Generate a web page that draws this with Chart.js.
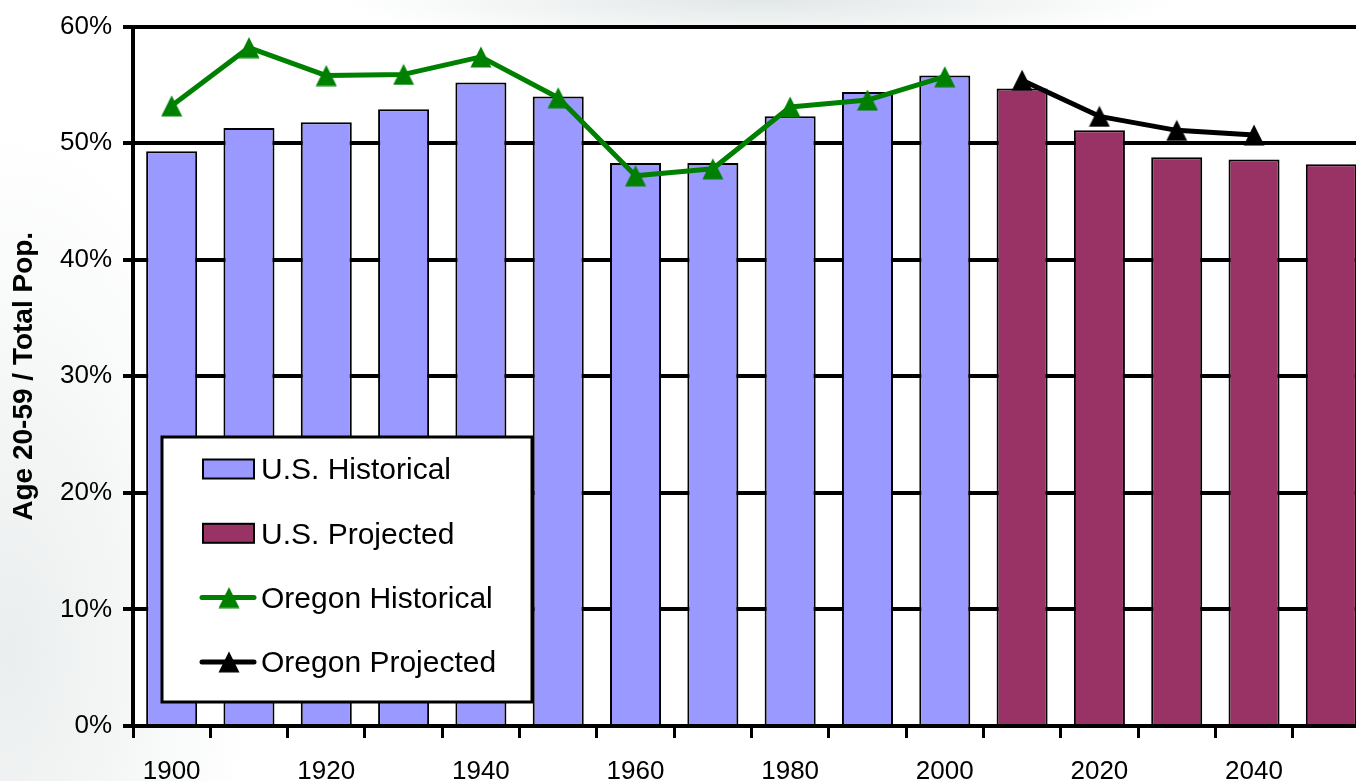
<!DOCTYPE html>
<html>
<head>
<meta charset="utf-8">
<script src="https://cdn.jsdelivr.net/npm/chart.js@4.4.0/dist/chart.umd.min.js"></script>
<style>
html, body { margin: 0; padding: 0; }
body {
    width: 1356px; height: 781px; overflow: hidden;
    background:
        radial-gradient(ellipse 420px 45px at 760px 0px, rgba(222, 228, 228, 0.9), rgba(255, 255, 255, 0) 100%),
        radial-gradient(ellipse 240px 520px at 10px 650px, rgba(230, 234, 234, 0.8), rgba(255, 255, 255, 0) 100%),
        #ffffff;
}
#wrap { width: 1356px; height: 781px; overflow: hidden; }
canvas { display: block; }
</style>
</head>
<body>
<div id="wrap"><canvas id="chart" width="1376" height="781"></canvas></div>
<script>
// Share of population aged 20-59, U.S. vs Oregon, 1900-2050

const years = ["1900", "1910", "1920", "1930", "1940", "1950", "1960", "1970",
               "1980", "1990", "2000", "2010", "2020", "2030", "2040", "2050"];

const usHistorical = [49.3, 51.3, 51.8, 52.9, 55.2, 54.0, 48.3, 48.3,
                      52.3, 54.4, 55.8, null, null, null, null, null];

const usProjected = [null, null, null, null, null, null, null, null,
                     null, null, null, 54.7, 51.1, 48.8, 48.6, 48.2];

const oregonHistorical = [53.2, 58.2, 55.8, 55.9, 57.4, 53.9, 47.2, 47.8,
                          53.1, 53.7, 55.7, null, null, null, null, null];

const oregonProjected = [null, null, null, null, null, null, null, null,
                         null, null, null, 55.4, 52.3, 51.1, 50.7, null];

const yTicks = [0, 10, 20, 30, 40, 50, 60];

const FONT = "'Liberation Sans', Arial, sans-serif";

// Excel-like triangle marker (box centred on the point)
function triangleMarker(color) {
    var c = document.createElement("canvas");
    c.width = 22;
    c.height = 22;
    var g = c.getContext("2d");
    g.beginPath();
    g.moveTo(11, 0.5);
    g.lineTo(21.5, 21.5);
    g.lineTo(0.5, 21.5);
    g.closePath();
    g.fillStyle = color;
    g.fill();
    return c;
}

const greenTri = triangleMarker("#008000");
const blackTri = triangleMarker("#000000");

// white plot area, the slide background shows around it
const plotBackground = {
    id: "plotBackground",
    beforeDraw: function (chart) {
        var a = chart.chartArea;
        var ctx = chart.ctx;
        ctx.save();
        ctx.fillStyle = "#ffffff";
        ctx.fillRect(a.left, a.top, a.right - a.left, a.bottom - a.top);
        ctx.restore();
    }
};

// boxed legend sitting inside the plot, bottom left
const boxLegend = {
    id: "boxLegend",
    afterDraw: function (chart) {
        var ctx = chart.ctx;
        var box = { x: 162, y: 437, w: 370, h: 265 };
        ctx.save();
        ctx.fillStyle = "#ffffff";
        ctx.fillRect(box.x, box.y, box.w, box.h);
        ctx.lineWidth = 3;
        ctx.strokeStyle = "#000000";
        ctx.strokeRect(box.x, box.y, box.w, box.h);

        ctx.font = "30px " + FONT;
        ctx.textBaseline = "middle";
        ctx.textAlign = "left";

        chart.data.datasets.forEach(function (ds, i) {
            var rowY = 469 + i * 64.3;
            if (ds.type === "bar") {
                ctx.fillStyle = ds.backgroundColor;
                ctx.fillRect(203, rowY - 9.5, 51, 19);
                ctx.lineWidth = 2;
                ctx.strokeStyle = "#000000";
                ctx.strokeRect(203, rowY - 9.5, 51, 19);
            } else {
                ctx.beginPath();
                ctx.moveTo(202, rowY);
                ctx.lineTo(254, rowY);
                ctx.lineWidth = 5;
                ctx.lineCap = "round";
                ctx.strokeStyle = ds.borderColor;
                ctx.stroke();
                ctx.drawImage(ds.pointStyle, 229 - 11, rowY - 11);
            }
            ctx.fillStyle = "#000000";
            ctx.fillText(ds.label, 261, rowY + 2);
        });
        ctx.restore();
    }
};

const ctx = document.getElementById("chart").getContext("2d");

const chart = new Chart(ctx, {
    data: {
        labels: years,
        datasets: [
            {
                type: "bar",
                label: "U.S. Historical",
                data: usHistorical,
                backgroundColor: "#9999ff",
                borderColor: "#000000",
                borderWidth: 2,
                grouped: false,
                barPercentage: 0.66,
                categoryPercentage: 1,
                order: 2
            },
            {
                type: "bar",
                label: "U.S. Projected",
                data: usProjected,
                backgroundColor: "#993366",
                borderColor: "#000000",
                borderWidth: 2,
                grouped: false,
                barPercentage: 0.66,
                categoryPercentage: 1,
                order: 2
            },
            {
                type: "line",
                label: "Oregon Historical",
                data: oregonHistorical,
                borderColor: "#008000",
                backgroundColor: "#008000",
                borderWidth: 5,
                borderJoinStyle: "round",
                borderCapStyle: "round",
                pointStyle: greenTri,
                pointRadius: 11,
                tension: 0,
                order: 1
            },
            {
                type: "line",
                label: "Oregon Projected",
                data: oregonProjected,
                borderColor: "#000000",
                backgroundColor: "#000000",
                borderWidth: 5,
                borderJoinStyle: "round",
                borderCapStyle: "round",
                pointStyle: blackTri,
                pointRadius: 11,
                tension: 0,
                order: 1
            }
        ]
    },
    options: {
        responsive: false,
        animation: false,
        layout: {
            autoPadding: false,
            padding: { top: 23, right: 6, left: 0, bottom: 0 }
        },
        scales: {
            x: {
                offset: true,
                grid: {
                    offset: true,
                    drawOnChartArea: false,
                    drawTicks: true,
                    tickLength: 12,
                    tickWidth: 3,
                    tickColor: "#000000"
                },
                border: { color: "#000000", width: 4 },
                ticks: {
                    autoSkip: false,
                    maxRotation: 0,
                    padding: 18,
                    color: "#000000",
                    font: { family: FONT, size: 26 },
                    callback: function (v, i) { return i % 2 === 0 ? years[i] : ""; }
                },
                afterFit: function (scale) { scale.height = 55; }
            },
            y: {
                min: 0,
                max: 60,
                afterBuildTicks: function (scale) {
                    scale.ticks = yTicks.map(function (v) { return { value: v }; });
                },
                grid: {
                    color: "#000000",
                    lineWidth: 4,
                    tickLength: 10
                },
                border: { color: "#000000", width: 4 },
                ticks: {
                    padding: 11,
                    color: "#000000",
                    font: { family: FONT, size: 26 },
                    callback: function (v) { return v + "%"; }
                },
                title: {
                    display: true,
                    text: "Age 20-59 / Total Pop.",
                    color: "#000000",
                    font: { family: FONT, size: 28, weight: "bold" },
                    padding: { top: 7, bottom: 0 }
                },
                afterFit: function (scale) { scale.width = 133; }
            }
        },
        plugins: {
            legend: { display: false },
            tooltip: { enabled: false }
        }
    },
    plugins: [plotBackground, boxLegend]
});
</script>
</body>
</html>
